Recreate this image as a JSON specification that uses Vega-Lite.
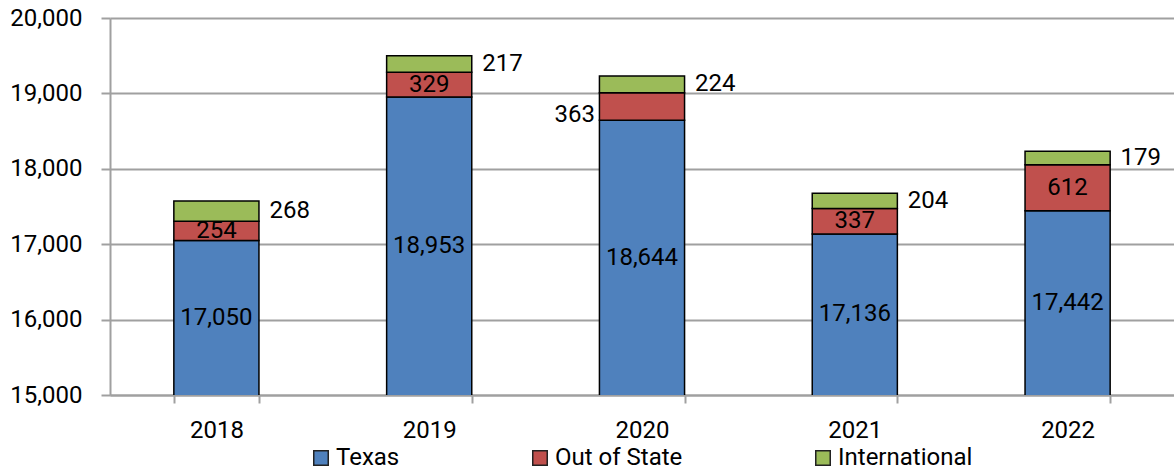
{
  "$schema": "https://vega.github.io/schema/vega-lite/v6.json",
  "width": 1064,
  "height": 377,
  "autosize": {"type": "none"},
  "padding": {"left": 110, "top": 18, "right": 0, "bottom": 76},
  "config": {
    "view": {"stroke": null},
    "font": "Roboto",
    "text": {"font": "Roboto", "fontSize": 24, "color": "black"}
  },
  "data": {
    "values": [
      {"year": "2018", "series": "Texas", "students": 17050},
      {"year": "2018", "series": "Out of State", "students": 254},
      {"year": "2018", "series": "International", "students": 268},
      {"year": "2019", "series": "Texas", "students": 18953},
      {"year": "2019", "series": "Out of State", "students": 329},
      {"year": "2019", "series": "International", "students": 217},
      {"year": "2020", "series": "Texas", "students": 18644},
      {"year": "2020", "series": "Out of State", "students": 363},
      {"year": "2020", "series": "International", "students": 224},
      {"year": "2021", "series": "Texas", "students": 17136},
      {"year": "2021", "series": "Out of State", "students": 337},
      {"year": "2021", "series": "International", "students": 204},
      {"year": "2022", "series": "Texas", "students": 17442},
      {"year": "2022", "series": "Out of State", "students": 612},
      {"year": "2022", "series": "International", "students": 179}
    ]
  },
  "transform": [
    {"stack": "students", "groupby": ["year"], "sort": [{"field": "series", "order": "descending"}], "as": ["y0", "y1"]}
  ],
  "layer": [
    {
      "mark": {"type": "bar", "clip": true, "stroke": "black", "strokeWidth": 1.5},
      "encoding": {
        "x": {
          "field": "year", "type": "ordinal",
          "scale": {"paddingInner": 0.6, "paddingOuter": 0.3},
          "axis": {
            "title": null, "labelAngle": 0, "tickBand": "extent", "tickSize": 8,
            "tickColor": "#a0a0a0", "tickWidth": 2, "domainColor": "#a0a0a0", "domainWidth": 2,
            "labelFontSize": 24, "labelFont": "Roboto", "labelColor": "black", "labelPadding": 15, "grid": false
          }
        },
        "y": {
          "field": "y1", "type": "quantitative",
          "scale": {"domain": [15000, 20000]},
          "axis": {
            "title": null, "values": [15000, 16000, 17000, 18000, 19000, 20000], "format": ",.0f",
            "grid": true, "gridColor": "#a0a0a0", "gridWidth": 2,
            "tickSize": 9, "tickColor": "#a0a0a0", "tickWidth": 2,
            "domainColor": "#a0a0a0", "domainWidth": 2,
            "labelFontSize": 24, "labelFont": "Roboto", "labelColor": "black", "labelPadding": 19
          }
        },
        "y2": {"field": "y0"},
        "color": {
          "field": "series", "type": "nominal",
          "scale": {"domain": ["Texas", "Out of State", "International"], "range": ["#4F81BD", "#C0504D", "#9BBB59"]},
          "legend": {
            "title": null, "orient": "none", "direction": "horizontal", "legendX": 199, "legendY": 428,
            "symbolType": "square", "symbolSize": 210, "symbolStrokeColor": "#222", "symbolStrokeWidth": 1.5,
            "labelFontSize": 24, "labelFont": "Roboto", "labelColor": "black", "labelOffset": 3,
            "columnPadding": 128, "padding": 0
          }
        }
      }
    },
    {
      "transform": [{"filter": "datum.series === 'Texas'"}],
      "mark": {"type": "text"},
      "encoding": {
        "x": {"field": "year", "type": "ordinal"},
        "y": {"field": "students", "type": "quantitative", "scale": {"domain": [15000, 25000]}, "axis": null},
        "text": {"field": "students", "type": "quantitative", "format": ",.0f"}
      }
    },
    {
      "transform": [
        {"filter": "datum.series === 'Out of State' && datum.year !== '2020'"},
        {"fold": ["y0", "y1"], "as": ["edge", "pos"]},
        {"aggregate": [{"op": "mean", "field": "pos", "as": "mid"}, {"op": "max", "field": "students", "as": "n"}], "groupby": ["year"]}
      ],
      "mark": {"type": "text"},
      "encoding": {
        "x": {"field": "year", "type": "ordinal"},
        "y": {"field": "mid", "type": "quantitative", "scale": {"domain": [15000, 20000]}, "axis": null},
        "text": {"field": "n", "type": "quantitative"}
      }
    },
    {
      "transform": [
        {"filter": "datum.series === 'Out of State' && datum.year === '2020'"},
        {"fold": ["y0", "y1"], "as": ["edge", "pos"]},
        {"aggregate": [{"op": "mean", "field": "pos", "as": "mid"}, {"op": "max", "field": "students", "as": "n"}], "groupby": ["year"]}
      ],
      "mark": {"type": "text", "align": "right", "dx": -47, "dy": 8},
      "encoding": {
        "x": {"field": "year", "type": "ordinal"},
        "y": {"field": "mid", "type": "quantitative", "scale": {"domain": [15000, 20000]}, "axis": null},
        "text": {"field": "n", "type": "quantitative"}
      }
    },
    {
      "transform": [
        {"filter": "datum.series === 'International'"},
        {"fold": ["y0", "y1"], "as": ["edge", "pos"]},
        {"aggregate": [{"op": "mean", "field": "pos", "as": "mid"}, {"op": "max", "field": "students", "as": "n"}], "groupby": ["year"]}
      ],
      "mark": {"type": "text", "align": "left", "dx": 53},
      "encoding": {
        "x": {"field": "year", "type": "ordinal"},
        "y": {"field": "mid", "type": "quantitative", "scale": {"domain": [15000, 20000]}, "axis": null},
        "text": {"field": "n", "type": "quantitative"}
      }
    }
  ],
  "resolve": {"scale": {"y": "independent"}}
}
